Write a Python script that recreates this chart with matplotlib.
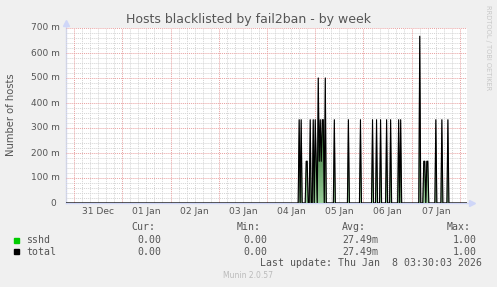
import numpy as np
import pandas as pd
import matplotlib
matplotlib.use("Agg")
import matplotlib.pyplot as plt
from matplotlib.patches import Rectangle
from matplotlib.colors import LinearSegmentedColormap
from matplotlib.transforms import blended_transform_factory

W, H = 497, 287

# half-hour samples where sshd had a non-zero value, every other sample is 0
spike_times = [
    "2026-01-04 16:00", "2026-01-04 17:00", "2026-01-04 19:30", "2026-01-04 20:00",
    "2026-01-04 21:30", "2026-01-04 23:00", "2026-01-05 00:00", "2026-01-05 00:30",
    "2026-01-05 01:30", "2026-01-05 02:00", "2026-01-05 02:30", "2026-01-05 03:00",
    "2026-01-05 03:30", "2026-01-05 04:00", "2026-01-05 05:00", "2026-01-05 09:30",
    "2026-01-05 16:30", "2026-01-05 22:30", "2026-01-06 04:30", "2026-01-06 06:30",
    "2026-01-06 08:30", "2026-01-06 11:30", "2026-01-06 13:30", "2026-01-06 17:30",
    "2026-01-06 18:30", "2026-01-07 04:00", "2026-01-07 06:00", "2026-01-07 06:30",
    "2026-01-07 07:30", "2026-01-07 08:00", "2026-01-07 12:00", "2026-01-07 15:00",
    "2026-01-07 18:00",
]
spike_values = [
    0.333, 0.333, 0.167, 0.167,
    0.333, 0.333, 0.333, 0.167,
    0.500, 0.167, 0.333, 0.167,
    0.333, 0.333, 0.500, 0.333,
    0.333, 0.333, 0.333, 0.333,
    0.333, 0.333, 0.333, 0.333,
    0.333, 0.667, 0.167, 0.167,
    0.167, 0.167, 0.333, 0.333,
    0.333,
]

day_labels = ["31 Dec", "01 Jan", "02 Jan", "03 Jan", "04 Jan", "05 Jan", "06 Jan", "07 Jan"]
ytick_vals = [0, 0.1, 0.2, 0.3, 0.4, 0.5, 0.6, 0.7]
ytick_labels = ["0 ", "100 m", "200 m", "300 m", "400 m", "500 m", "600 m", "700 m"]

series_names = ["sshd", "total"]
series_colors = ["#00CC00", "#000000"]
cur_vals = ["0.00", "0.00"]
min_vals = ["0.00", "0.00"]
avg_vals = ["27.49m", "27.49m"]
max_vals = ["1.00", "1.00"]

t0 = pd.Timestamp("2025-12-31 00:00")
idx = pd.date_range("2025-12-30 20:00", "2026-01-08 03:30", freq="30min")
sshd = pd.Series(0.0, index=idx)
sshd[pd.to_datetime(spike_times)] = spike_values
total = sshd.copy()
hours = np.asarray((idx - t0) / pd.Timedelta(hours=1))

TXT = "#555555"
fig = plt.figure(figsize=(W / 100, H / 100), dpi=100, facecolor="#F0F0F0")
ax = fig.add_axes([66 / W, 1 - 203 / H, 401 / W, 175 / H], facecolor="white")
ax.set_xlim(-4, 195.5)
ax.set_ylim(0, 0.7)
for s in ax.spines.values():
    s.set_visible(False)
ax.set_xticks([])
ax.set_yticks([])

# grid: minor every 4 h / 20 m, major at midnight / 100 m
for h in np.arange(-4, 196, 4):
    major = h % 24 == 0
    ax.axvline(h, color="#E8A0A0" if major else "#D4D4D4", lw=0.7,
               ls=(0, (1, 1)), zorder=1 if not major else 2)
for v in np.arange(0.02, 0.7001, 0.02):
    major = abs(v * 10 - round(v * 10)) < 1e-6
    ax.axhline(v, color="#E8A0A0" if major else "#D4D4D4", lw=0.7,
               ls=(0, (1, 1)), zorder=1 if not major else 2)

# sshd area: green, shaded darker towards the top like the antialiased rrd spikes
area = ax.fill_between(hours, sshd.values, color="none", lw=0, zorder=3)
shade = LinearSegmentedColormap.from_list(
    "shade", [(0, "#9ACD9A"), (0.45, "#2B6B2B"), (1, "#1A4A1A")])
grad = np.linspace(0, 1, 256).reshape(-1, 1)
im = ax.imshow(grad, extent=[-4, 195.5, 0, 0.7], origin="lower", aspect="auto",
               cmap=shade, zorder=3, interpolation="bilinear")
im.set_clip_path(area.get_paths()[0], transform=ax.transData)
ax.plot(hours, total.values, color="black", lw=0.8, zorder=4)

# axes with arrows (rrdtool style)
ax.plot([0, 1.012], [0, 0], transform=ax.transAxes, color="#CFD6F8", lw=1,
        clip_on=False, zorder=0)
ax.plot([0, 0], [0, 1.03], transform=ax.transAxes, color="#CFD6F8", lw=1,
        clip_on=False, zorder=0)
ax.plot([1.012], [0], transform=ax.transAxes, marker=">", ms=4, color="#CFD6F8",
        clip_on=False)
ax.plot([0], [1.03], transform=ax.transAxes, marker="^", ms=4, color="#CFD6F8",
        clip_on=False)
ax.plot(hours, total.values, color="black", lw=0.6, alpha=0.4, zorder=5)
ax.set_xlim(-4, 195.5)
ax.set_ylim(0, 0.7)

# y tick labels
ytr = blended_transform_factory(ax.transAxes, ax.transData)
for v, lab in zip(ytick_vals, ytick_labels):
    ax.text(-6 / 401, v, lab, transform=ytr, ha="right", va="center",
            fontsize=6.5, color=TXT)
# x tick labels at noon
xtr = blended_transform_factory(ax.transData, ax.transAxes)
for i, lab in enumerate(day_labels):
    ax.text(12 + 24 * i, -9 / 175, lab, transform=xtr, ha="center", va="center",
            fontsize=6.6, color=TXT)


def fx(x):
    return x / W


def fy(y):
    return 1 - y / H


fig.text(fx(249), fy(19), "Hosts blacklisted by fail2ban - by week", ha="center",
         va="center", fontsize=9, color=TXT)
fig.text(fx(11), fy(115), "Number of hosts", rotation=90, ha="center", va="center",
         fontsize=7.2, color=TXT)
fig.text(fx(488), fy(5), "RRDTOOL / TOBI OETIKER", rotation=270, ha="center",
         va="top", fontsize=4.8, color="#C8C8C8")

mono = dict(family="DejaVu Sans Mono", fontsize=7.1, color=TXT, va="center")
fig.text(fx(131), fy(227), "Cur:", ha="left", **mono)
fig.text(fx(237), fy(227), "Min:", ha="left", **mono)
fig.text(fx(342), fy(227), "Avg:", ha="left", **mono)
fig.text(fx(447), fy(227), "Max:", ha="left", **mono)
for i, name in enumerate(series_names):
    y = 240 + 11.7 * i
    fig.patches.append(Rectangle((fx(14), fy(y + 2.5)), 5 / W, 5 / H,
                                 transform=fig.transFigure, color=series_colors[i]))
    fig.text(fx(26), fy(y), name, ha="left", **mono)
    fig.text(fx(161), fy(y), cur_vals[i], ha="right", **mono)
    fig.text(fx(267), fy(y), min_vals[i], ha="right", **mono)
    fig.text(fx(378), fy(y), avg_vals[i], ha="right", **mono)
    fig.text(fx(477), fy(y), max_vals[i], ha="right", **mono)
fig.text(fx(482), fy(263), "Last update: Thu Jan  8 03:30:03 2026", ha="right", **mono)
fig.text(fx(248), fy(276), "Munin 2.0.57", ha="center", va="center", fontsize=5.5,
         color="#BBBBBB")

fig.savefig("out.png", dpi=100, facecolor=fig.get_facecolor())
